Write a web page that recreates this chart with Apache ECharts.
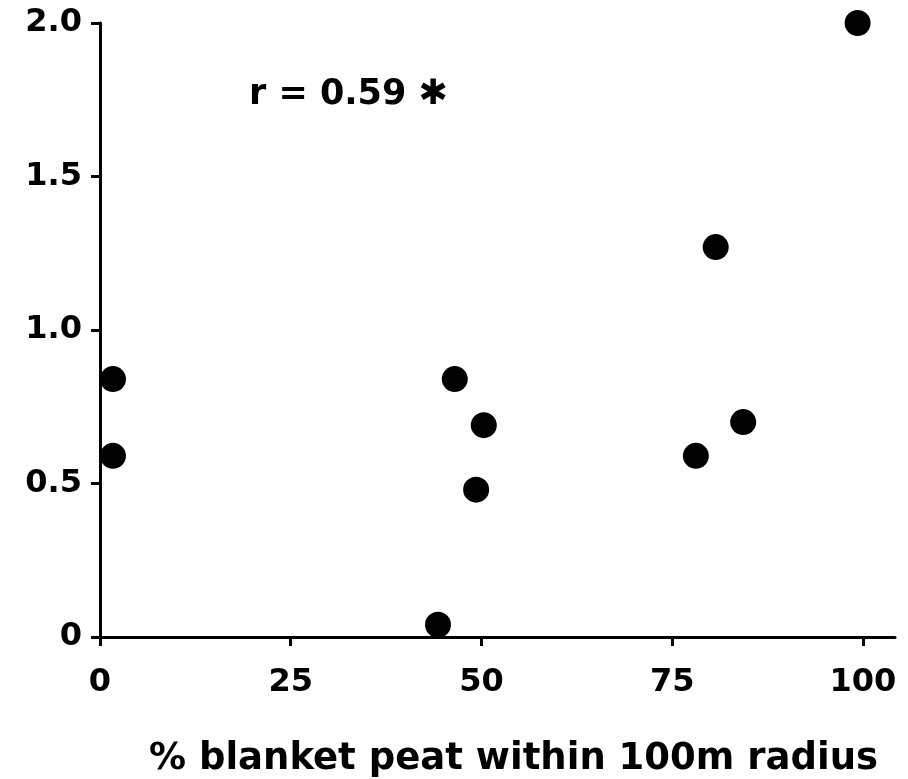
<!DOCTYPE html>
<html>
<head>
<meta charset="utf-8">
<script src="https://cdn.jsdelivr.net/npm/echarts@6/dist/echarts.min.js"></script>
<style>html,body{margin:0;padding:0;background:#fff}#c{width:908px;height:779px}</style>
</head>
<body>
<div id="c"></div>
<script>
// % blanket peat within 100 m radius (x) vs response (y)
const peatPercent = [1.7, 1.7, 44.3, 46.5, 50.3, 49.3, 78.1, 80.7, 84.3, 99.3];
const responseValues = [0.84, 0.59, 0.04, 0.84, 0.69, 0.48, 0.59, 1.27, 0.70, 2.0];
const xTickValues = [0, 25, 50, 75, 100];
const yTickValues = [0, 0.5, 1.0, 1.5, 2.0];
const xAxisTitle = '% blanket peat within 100m radius';
const annotationText = 'r = 0.59 \u2731';

const points = peatPercent.map((x, i) => [x, responseValues[i]]);
const FONT = '"DejaVu Sans", "Liberation Sans", sans-serif';

const chart = echarts.init(document.getElementById('c'), null, {renderer: 'canvas'});
chart.setOption({
  animation: false,
  backgroundColor: '#fff',
  grid: {left: 100, right: 13, top: 23, bottom: 142, containLabel: false, outerBoundsMode: 'none'},
  title: {
    text: annotationText,
    left: 244, top: 72,
    textStyle: {fontFamily: FONT, fontWeight: 'bold', fontSize: 35, color: '#000'}
  },
  xAxis: {
    type: 'value', min: 0, max: 104.2,
    axisLine: {show: true, onZero: false, lineStyle: {color: '#000', width: 3}},
    axisTick: {show: true, customValues: xTickValues, length: 9, lineStyle: {color: '#000', width: 3}},
    axisLabel: {customValues: xTickValues, margin: 30, color: '#000', fontFamily: FONT, fontWeight: 'bold', fontSize: 32,
      formatter: v => String(v)},
    splitLine: {show: false},
    name: xAxisTitle, nameLocation: 'middle', nameGap: 104,
    nameTextStyle: {fontFamily: FONT, fontWeight: 'bold', fontSize: 37, color: '#000', padding: [0, 0, 0, 32]}
  },
  yAxis: {
    type: 'value', min: 0, max: 2.0,
    axisLine: {show: true, onZero: false, lineStyle: {color: '#000', width: 3}},
    axisTick: {show: true, customValues: yTickValues, length: 9, lineStyle: {color: '#000', width: 3}},
    axisLabel: {customValues: yTickValues, margin: 18, color: '#000', fontFamily: FONT, fontWeight: 'bold', fontSize: 32,
      formatter: v => v === 0 ? '0' : v.toFixed(1)},
    splitLine: {show: false}
  },
  series: [{
    type: 'scatter',
    data: points,
    symbol: 'circle',
    symbolSize: 26,
    itemStyle: {color: '#000', opacity: 1},
    clip: false
  }]
});
</script>
</body>
</html>
